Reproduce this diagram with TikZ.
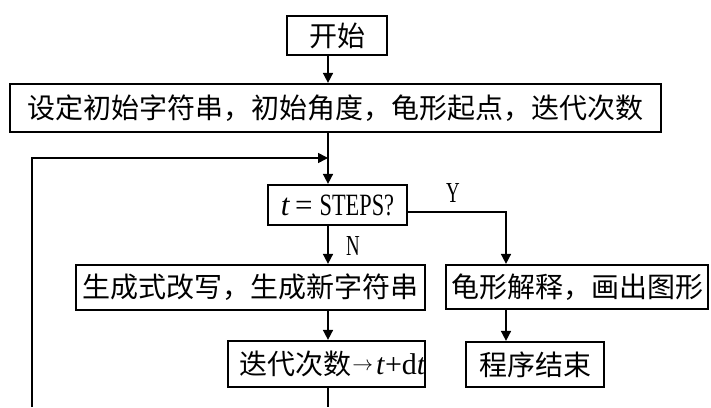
\documentclass[tikz,border=0pt]{standalone}
\usepackage{fontspec}
\setmainfont{Liberation Serif}
\newfontfamily\cjk{Noto Sans CJK SC}
\usetikzlibrary{arrows.meta}
\begin{document}
\begin{tikzpicture}[x=1pt,y=-1pt,
  box/.style={draw,line width=2.2pt,inner sep=0pt,font=\cjk\fontsize{28pt}{30pt}\selectfont},
  conn/.style={line width=1.6pt},
  arr/.style={conn,-{Triangle[length=10pt,width=10pt]}},
  lbl/.style={inner sep=0pt,font=\fontsize{29pt}{31pt}\selectfont}]
\useasboundingbox (0,0) rectangle (711,407);
\coordinate (ax) at (328,0);
\coordinate (yx) at (506,212);
\coordinate (loopbot) at (32,407);
\coordinate (loopcorner) at (32,158);
\coordinate (join) at (328,158);
\coordinate (bottomend) at (328,407);

\node[box,minimum width=100pt,minimum height=39pt] (start) at (337,35.5) {开始};
\node[box,minimum width=651pt,minimum height=48pt] (setup) at (335.5,108) {设定初始字符串，初始角度，龟形起点，迭代次数};
\node[box,minimum width=139pt,minimum height=40pt,font=\fontsize{31pt}{33pt}\selectfont] (dec) at (337.5,205) {\textit{t}\kern5pt=\kern7pt\scalebox{0.72}[1]{STEPS?}};
\node[box,minimum width=349pt,minimum height=45pt] (gen) at (250.5,287.5) {生成式改写，生成新字符串};
\node[box,minimum width=262pt,minimum height=44pt] (turtle) at (577,287) {龟形解释，画出图形};
\node[box,minimum width=197pt,minimum height=46pt,
  path picture={\node[anchor=west,inner sep=0pt,font=\cjk\fontsize{28pt}{30pt}\selectfont] at ([xshift=5pt]path picture bounding box.west) {迭代次数\kern1pt\raisebox{4pt}{\fontsize{22pt}{24pt}\selectfont$\rightarrow$}\kern3pt{\fontsize{30pt}{32pt}\selectfont\textrm{\textit{t}+d\textit{t}}}};}] (iter) at (326.5,364) {};
\node[box,minimum width=138pt,minimum height=45pt] (endn) at (535,364.5) {程序结束};

\draw[arr] (start.south -| ax) -- (setup.north -| ax);
\draw[conn] (setup.south -| ax) -- (join);
\draw[arr] (join) -- (dec.north -| ax);
\draw[arr] (loopbot) -- (loopcorner) -- (join);
\draw[arr] (dec.east |- yx) -- (yx) -- (turtle.north -| yx);
\draw[arr] (dec.south -| ax) -- (gen.north -| ax);
\draw[arr] (gen.south -| ax) -- (iter.north -| ax);
\draw[conn] (iter.south -| ax) -- (bottomend);
\draw[arr] (turtle.south -| yx) -- (endn.north -| yx);

\node[lbl] (ylab) at (453,193) {\scalebox{0.65}[1]{Y}};
\node[lbl] (nlab) at (353,246) {\scalebox{0.65}[1]{N}};
\end{tikzpicture}
\end{document}
